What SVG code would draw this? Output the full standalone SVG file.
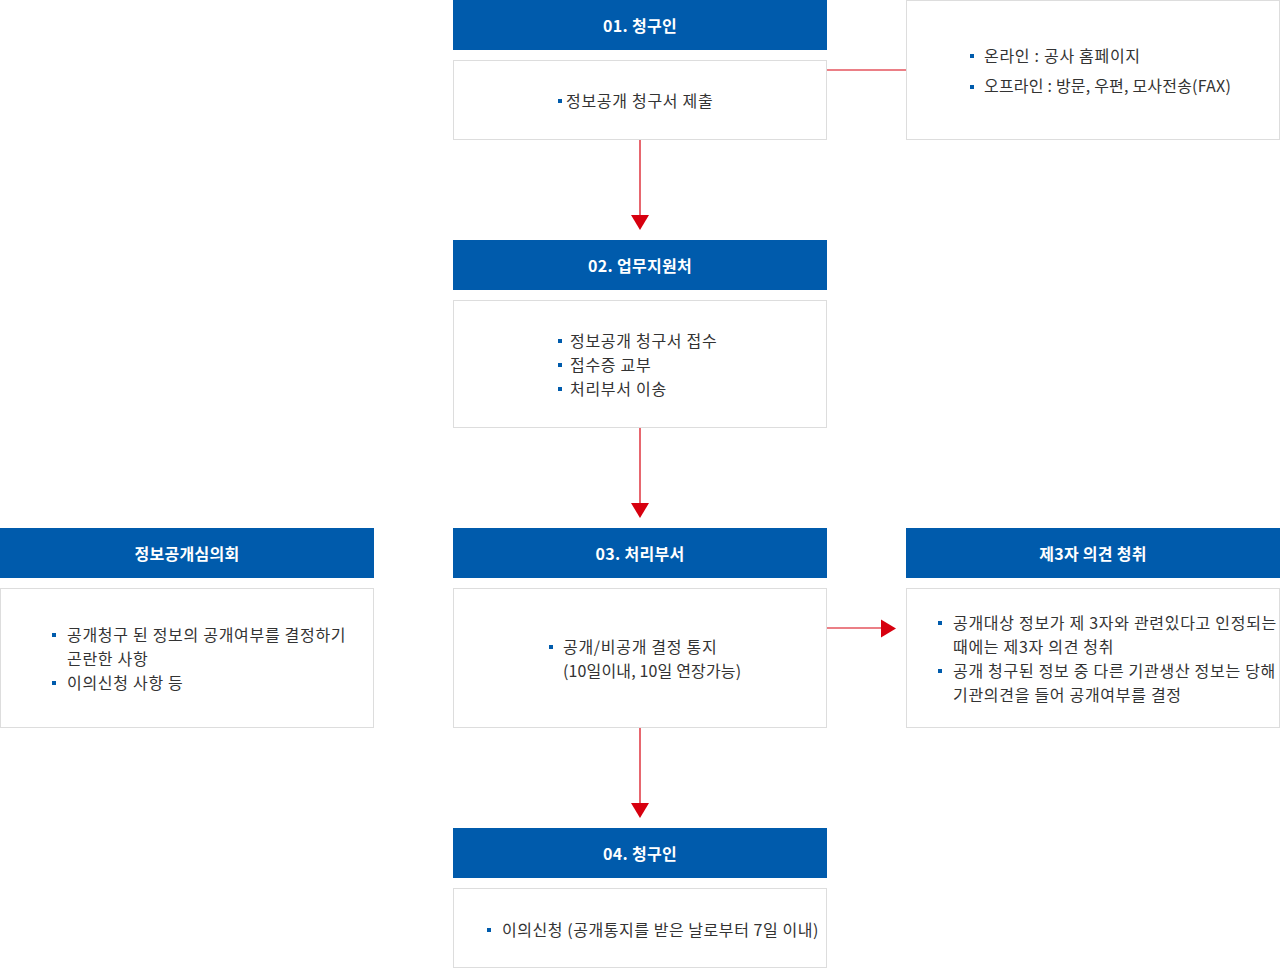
<svg xmlns="http://www.w3.org/2000/svg" width="1280" height="968" viewBox="0 0 1280 968">
<style>
.hd{fill:#005bac}
.bx{fill:#fff;stroke:#dddddd;stroke-width:1}
.ht{font-family:"Noto Sans CJK KR","Noto Sans",sans-serif;font-size:16px;font-weight:bold;letter-spacing:0.3px;fill:#fff;text-anchor:middle}
.t{font-family:"Noto Sans CJK KR","Noto Sans",sans-serif;font-size:16px;letter-spacing:0.7px;fill:#333}
.b{fill:#005bac}
.ln{stroke:#d7000f;stroke-width:1.2;fill:none}
.ah{fill:#d7000f}
</style>
<rect width="1280" height="968" fill="#fff"/>
<g id="connectors">
<line class="ln" x1="827" y1="70" x2="906" y2="70"/>
<line class="ln" x1="640" y1="140" x2="640" y2="216"/>
<polygon class="ah" points="631,215 649,215 640,230"/>
<line class="ln" x1="640" y1="428" x2="640" y2="504"/>
<polygon class="ah" points="631,503 649,503 640,518"/>
<line class="ln" x1="827" y1="628" x2="882" y2="628"/>
<polygon class="ah" points="881,619.5 881,637.5 896,628.5"/>
<line class="ln" x1="640" y1="728" x2="640" y2="804"/>
<polygon class="ah" points="631,803 649,803 640,818"/>
</g>
<g id="node1">
<rect class="hd" x="453" y="0" width="374" height="50"/>
<text class="ht" x="640" y="32">01. 청구인</text>
<rect class="bx" x="453.5" y="60.5" width="373" height="79"/>
<rect class="b" x="558" y="99" width="4" height="4"/>
<text class="t" x="566" y="107">정보공개 청구서 제출</text>
</g>
<g id="node-submit">
<rect class="bx" x="906.5" y="0.5" width="373" height="139"/>
<rect class="b" x="970" y="54" width="4" height="4"/>
<text class="t" x="984" y="62">온라인 : 공사 홈페이지</text>
<rect class="b" x="970" y="85" width="4" height="4"/>
<text class="t" x="984" y="92" style="letter-spacing:0.2px">오프라인 : 방문, 우편, 모사전송(FAX)</text>
</g>
<g id="node2">
<rect class="hd" x="453" y="240" width="374" height="50"/>
<text class="ht" x="640" y="272">02. 업무지원처</text>
<rect class="bx" x="453.5" y="300.5" width="373" height="127"/>
<rect class="b" x="558" y="339" width="4" height="4"/>
<text class="t" x="570" y="347">정보공개 청구서 접수</text>
<rect class="b" x="558" y="363" width="4" height="4"/>
<text class="t" x="570" y="371">접수증 교부</text>
<rect class="b" x="558" y="387" width="4" height="4"/>
<text class="t" x="570" y="395">처리부서 이송</text>
</g>
<g id="node-committee">
<rect class="hd" x="0" y="528" width="374" height="50"/>
<text class="ht" x="187" y="560">정보공개심의회</text>
<rect class="bx" x="0.5" y="588.5" width="373" height="139"/>
<rect class="b" x="52" y="633" width="4" height="4"/>
<text class="t" x="67" y="641">공개청구 된 정보의 공개여부를 결정하기</text>
<text class="t" x="67" y="665">곤란한 사항</text>
<rect class="b" x="52" y="681" width="4" height="4"/>
<text class="t" x="67" y="689">이의신청 사항 등</text>
</g>
<g id="node3">
<rect class="hd" x="453" y="528" width="374" height="50"/>
<text class="ht" x="640" y="560">03. 처리부서</text>
<rect class="bx" x="453.5" y="588.5" width="373" height="139"/>
<rect class="b" x="549" y="645" width="4" height="4"/>
<text class="t" x="563" y="653">공개/비공개 결정 통지</text>
<text class="t" x="563" y="677" style="letter-spacing:0.15px">(10일이내, 10일 연장가능)</text>
</g>
<g id="node-third">
<rect class="hd" x="906" y="528" width="374" height="50"/>
<text class="ht" x="1093" y="560">제3자 의견 청취</text>
<rect class="bx" x="906.5" y="588.5" width="373" height="139"/>
<rect class="b" x="938" y="621" width="4" height="4"/>
<text class="t" x="953" y="629">공개대상 정보가 제 3자와 관련있다고 인정되는</text>
<text class="t" x="953" y="653">때에는 제3자 의견 청취</text>
<rect class="b" x="938" y="669" width="4" height="4"/>
<text class="t" x="953" y="677">공개 청구된 정보 중 다른 기관생산 정보는 당해</text>
<text class="t" x="953" y="701">기관의견을 들어 공개여부를 결정</text>
</g>
<g id="node4">
<rect class="hd" x="453" y="828" width="374" height="50"/>
<text class="ht" x="640" y="860">04. 청구인</text>
<rect class="bx" x="453.5" y="888.5" width="373" height="79"/>
<rect class="b" x="487" y="928" width="4" height="4"/>
<text class="t" x="502" y="936" style="letter-spacing:0.55px">이의신청 (공개통지를 받은 날로부터 7일 이내)</text>
</g>
</svg>
